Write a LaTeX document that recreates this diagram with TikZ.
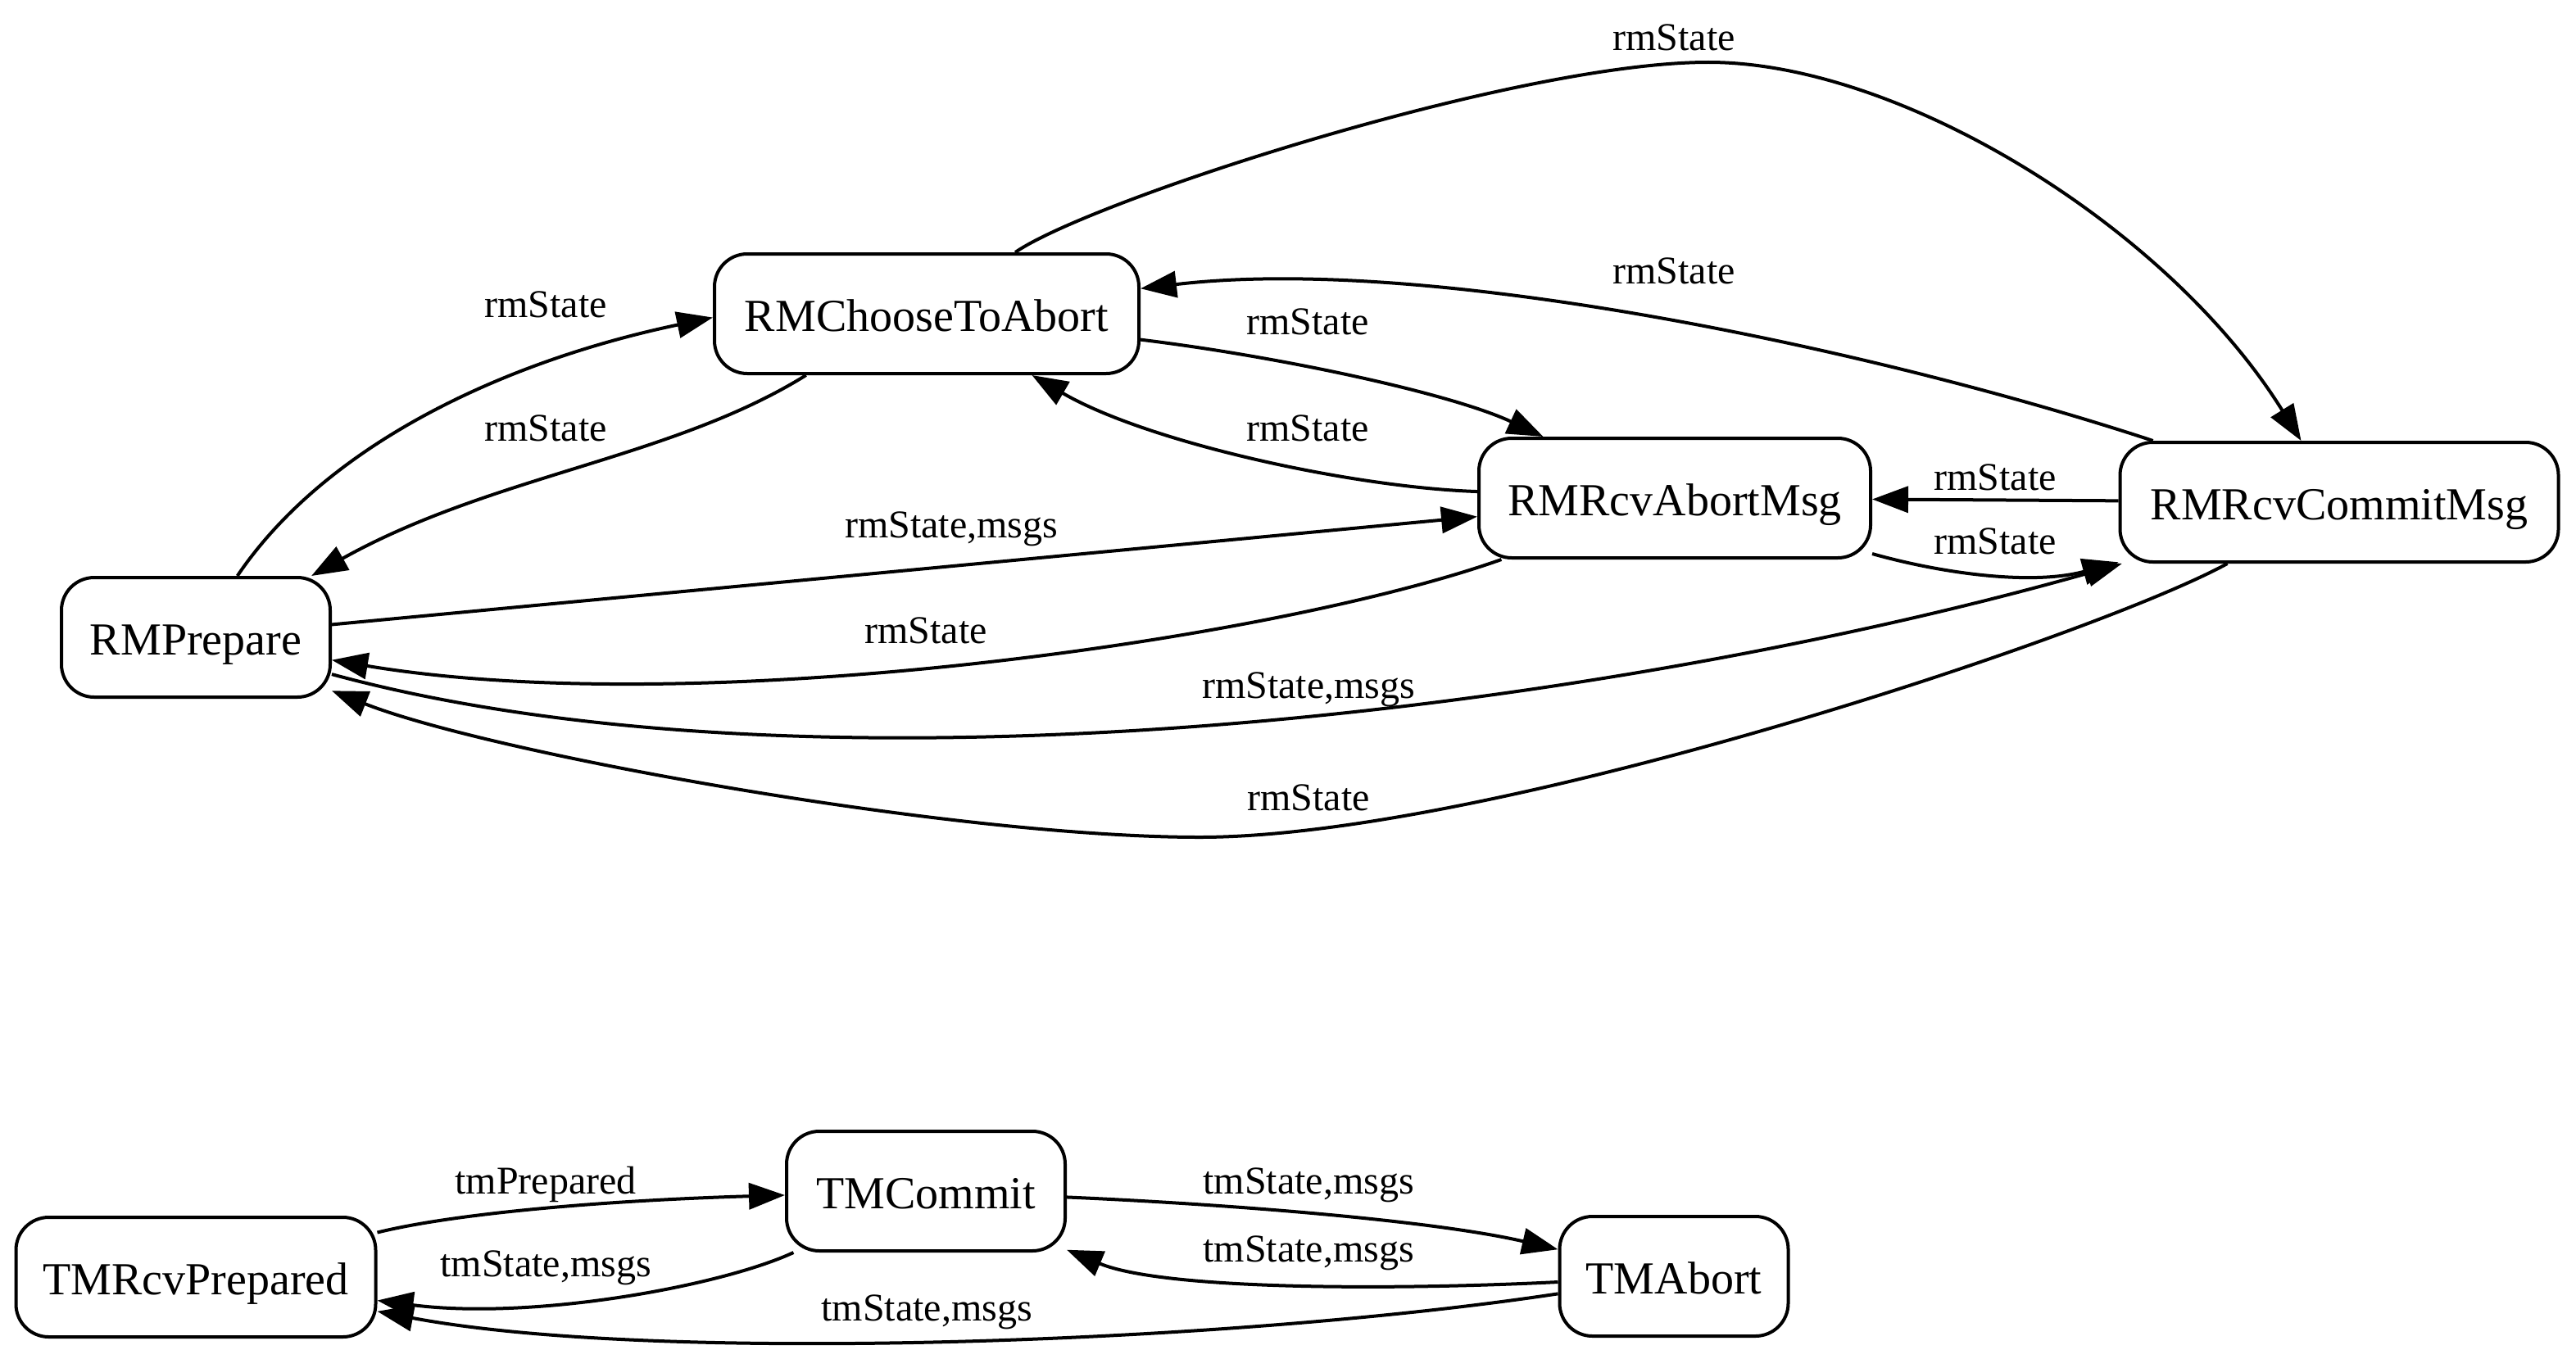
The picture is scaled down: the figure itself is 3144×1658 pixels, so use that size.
\documentclass[tikz,border=0pt]{standalone}
\usepackage{fontspec}
\setmainfont{Liberation Serif}
\usetikzlibrary{arrows.meta}
\begin{document}
\begin{tikzpicture}[x=0.25pt,y=-0.25pt,
  st/.style={draw, line width=1pt, rounded corners=10pt, inner sep=0pt, minimum height=36.5pt, text height=10.5pt, text depth=0pt, font=\fontsize{14}{16}\selectfont},
  lbl/.style={inner sep=0pt, anchor=base, font=\fontsize{12}{14}\selectfont},
  edge/.style={line width=1pt, -{Triangle[length=11pt,width=8pt]}},
]
\useasboundingbox (0,0) rectangle (3144,1658);
% nodes
\node[st, minimum width=129.5pt] (cta) at (1131,383) {RMChooseToAbort};
\node[st, minimum width=82pt] (prep) at (239,778) {RMPrepare};
\node[st, minimum width=119.5pt] (rab) at (2044,608) {RMRcvAbortMsg};
\node[st, minimum width=133.75pt] (rcm) at (2855,613) {RMRcvCommitMsg};
\node[st, minimum width=85pt] (tmc) at (1130,1454) {TMCommit};
\node[st, minimum width=109.75pt] (tmr) at (239,1559) {TMRcvPrepared};
\node[st, minimum width=69.75pt] (tma) at (2043,1558) {TMAbort};
% edges
\draw[edge] (prep) .. controls (400,540) and (620,440) .. (cta.181);
\draw[edge] (cta.207) .. controls (820,560) and (600,580) .. (prep.28);
\draw[edge] (cta) .. controls (1560,435) and (1770,480) .. (rab);
\draw[edge] (rab) .. controls (1650,595) and (1400,540) .. (cta);
\draw[edge] (cta) .. controls (1330,245) and (1850,76) .. (2085,76) .. controls (2320,76) and (2647,278) .. (rcm);
\draw[edge] (rcm) .. controls (2300,430) and (1750,310) .. (cta);
\draw[edge] (rcm) -- (rab);
\draw[edge] (rab) .. controls (2370,700) and (2480,715) .. (rcm);
\draw[edge] (prep) -- (rab);
\draw[edge] (rab) .. controls (1550,783) and (850,880) .. (prep);
\draw[edge] (prep) .. controls (1000,985) and (1950,869) .. (rcm);
\draw[edge] (rcm) .. controls (2560,775) and (1820,1022) .. (1464,1022) .. controls (1164,1022) and (600,920) .. (prep);
\draw[edge] (tmr) .. controls (560,1480) and (750,1465) .. (tmc);
\draw[edge] (tmc) .. controls (880,1570) and (650,1612) .. (tmr);
\draw[edge] (tma) .. controls (1500,1640) and (800,1665) .. (tmr);
\draw[edge] (tmc) .. controls (1500,1470) and (1750,1490) .. (tma);
\draw[edge] (tma) .. controls (1700,1575) and (1420,1575) .. (tmc);
% labels
\node[lbl] (l1) at (666,387) {rmState};
\node[lbl] (l2) at (666,538) {rmState};
\node[lbl] (l3) at (1596,408) {rmState};
\node[lbl] (l4) at (1596,538) {rmState};
\node[lbl] (l5) at (2043,62) {rmState};
\node[lbl] (l6) at (2043,346) {rmState};
\node[lbl] (l7) at (2435,598) {rmState};
\node[lbl] (l8) at (2435,676) {rmState};
\node[lbl] (l9) at (1161,656) {rmState,msgs};
\node[lbl] (l10) at (1130,785) {rmState};
\node[lbl] (l11) at (1597,852) {rmState,msgs};
\node[lbl] (l12) at (1597,989) {rmState};
\node[lbl] (l13) at (666,1457) {tmPrepared};
\node[lbl] (l14) at (666,1558) {tmState,msgs};
\node[lbl] (l15) at (1131,1612) {tmState,msgs};
\node[lbl] (l16) at (1597,1457) {tmState,msgs};
\node[lbl] (l17) at (1597,1540) {tmState,msgs};
\end{tikzpicture}
\end{document}
